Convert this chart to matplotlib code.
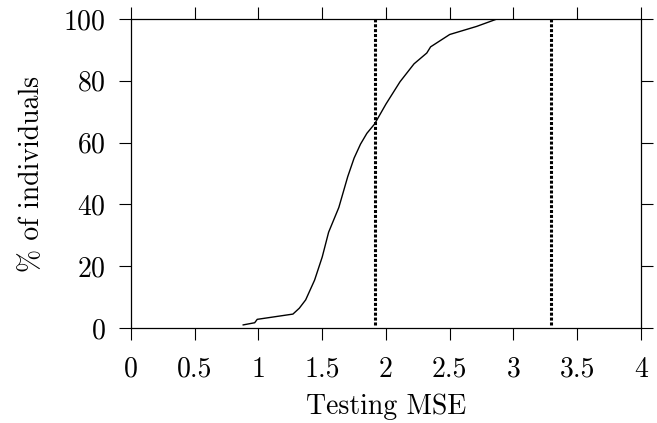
import matplotlib
matplotlib.use("Agg")
import matplotlib.pyplot as plt

plt.rcParams['font.family'] = ['cmr10', 'DejaVu Serif']
plt.rcParams['axes.formatter.use_mathtext'] = True
plt.rcParams['mathtext.fontset'] = 'cm'

# cumulative % of individuals vs testing MSE
mse = [0.88, 0.97, 0.99, 1.27, 1.32, 1.37, 1.44, 1.50, 1.55, 1.63, 1.70,
       1.75, 1.80, 1.85, 1.91, 2.00, 2.11, 2.22, 2.32, 2.35, 2.50, 2.71, 2.87]
pct = [1.0, 1.7, 2.8, 4.5, 6.4, 9.1, 15.5, 23, 31, 39, 49,
       55, 59.5, 63, 66, 72.5, 79.7, 85.5, 89, 91, 95, 97.6, 100]

# reference lines
ref_x = [1.914, 3.294]
ref_y0 = 1
ref_y1 = 100

xticks = [0, 0.5, 1, 1.5, 2, 2.5, 3, 3.5, 4]
xtick_labels = ['0', '0.5', '1', '1.5', '2', '2.5', '3', '3.5', '4']
yticks = [0, 20, 40, 60, 80, 100]

fig = plt.figure(figsize=(6.57, 4.23), dpi=100)
ax = fig.add_axes([0.1994, 0.2246, 0.7762, 0.7304])

ax.plot(mse, pct, color='black', lw=1.0)
ax.vlines(ref_x, ref_y0, ref_y1, colors='black', linestyles=(0, (1, 0.6)), lw=2.2)

ax.set_xlim(0, 4)
ax.set_ylim(0, 100)
ax.set_xticks(xticks)
ax.set_xticklabels(xtick_labels)
ax.set_yticks(yticks)

ax.tick_params(direction='out', length=8.5, width=0.8, labelsize=20,
               top=True, right=True)
ax.tick_params(axis='x', pad=12)
ax.tick_params(axis='y', pad=10)
for s in ax.spines.values():
    s.set_linewidth(0.9)

ax.set_xlabel('Testing MSE', fontsize=20, labelpad=8)
ax.set_ylabel('% of individuals', fontsize=20, labelpad=13)

fig.savefig('out.png', dpi=100)
